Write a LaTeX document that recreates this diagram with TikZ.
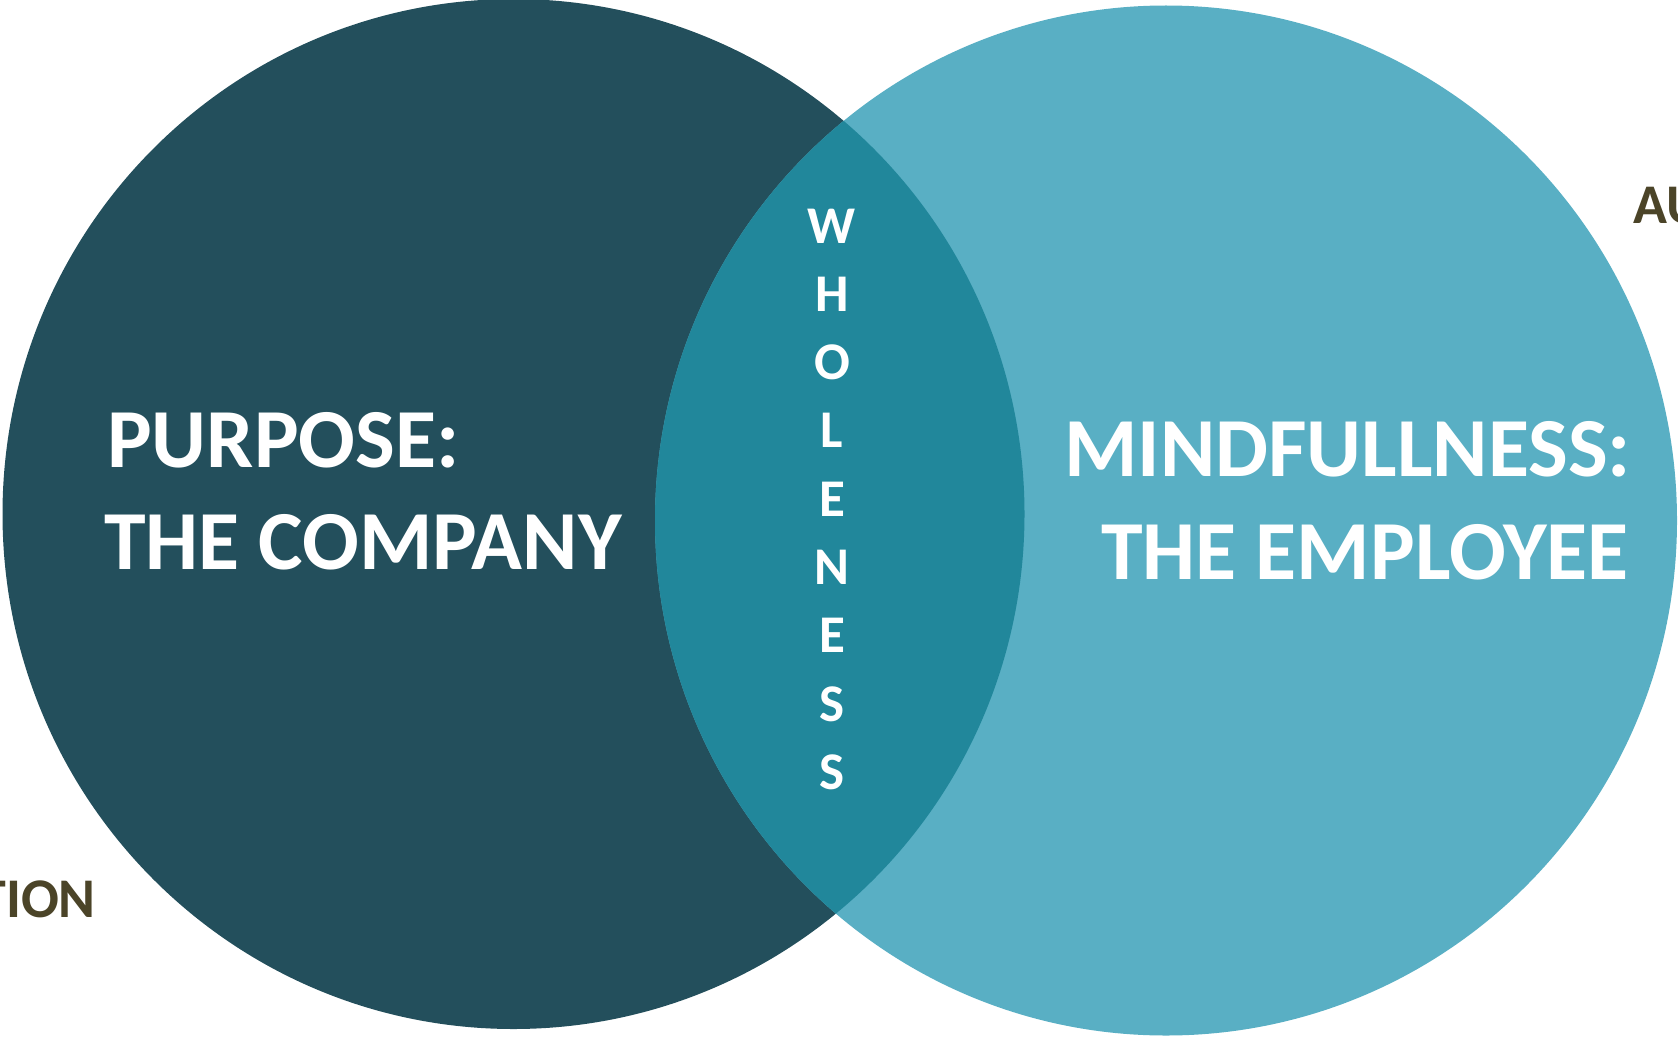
\documentclass[tikz,border=0pt]{standalone}
\usepackage{fontspec}
\setmainfont{Carlito}
\usepackage{tikz}
\definecolor{darkteal}{HTML}{234F5C}
\definecolor{lightteal}{HTML}{59AFC4}
\definecolor{midteal}{HTML}{21879B}
\definecolor{olive}{HTML}{4B4428}
\tikzset{
  bigtxt/.style={text=white, font=\bfseries\fontsize{84}{84}\selectfont, inner sep=0pt},
  lettxt/.style={text=white, font=\bfseries\fontsize{53}{53}\selectfont, inner sep=0pt},
  cuttxt/.style={text=olive, font=\bfseries\fontsize{56}{56}\selectfont, inner sep=0pt}
}
\begin{document}
\begin{tikzpicture}[x=1pt,y=-1pt]
\useasboundingbox (0,0) rectangle (1678,1038);
\def\rh{511}
\def\rv{515}
\def\lx{513.5}
\def\ly{514}
\def\rx{1166}
\def\ry{520.5}
\fill[darkteal] (\lx,\ly) ellipse ({\rh} and {\rv});
\fill[lightteal] (\rx,\ry) ellipse ({\rh} and {\rv});
\begin{scope}
\clip (\lx,\ly) ellipse ({\rh} and {\rv});
\fill[midteal] (\rx,\ry) ellipse ({\rh} and {\rv});
\end{scope}
\node[bigtxt, anchor=base west] (purpose) at (107,467) {PURPOSE:};
\node[bigtxt, anchor=base west] (company) at (104,569) {THE COMPANY};
\node[bigtxt, anchor=base east] (mind) at (1631,476) {MINDFULLNESS:};
\node[bigtxt, anchor=base east] (employee) at (1629,579) {THE EMPLOYEE};
\foreach \l [count=\i] in {W,H,O,L,E,N,E,S,S}{
\node[lettxt, anchor=base] (w\i) at (832,{243+68.3*(\i-1)}) {\l};}
\node[cuttxt, anchor=base west] (au) at (1633,223) {AU};
\node[cuttxt, anchor=base east] (tion) at (96,917) {TION};
\end{tikzpicture}
\end{document}
